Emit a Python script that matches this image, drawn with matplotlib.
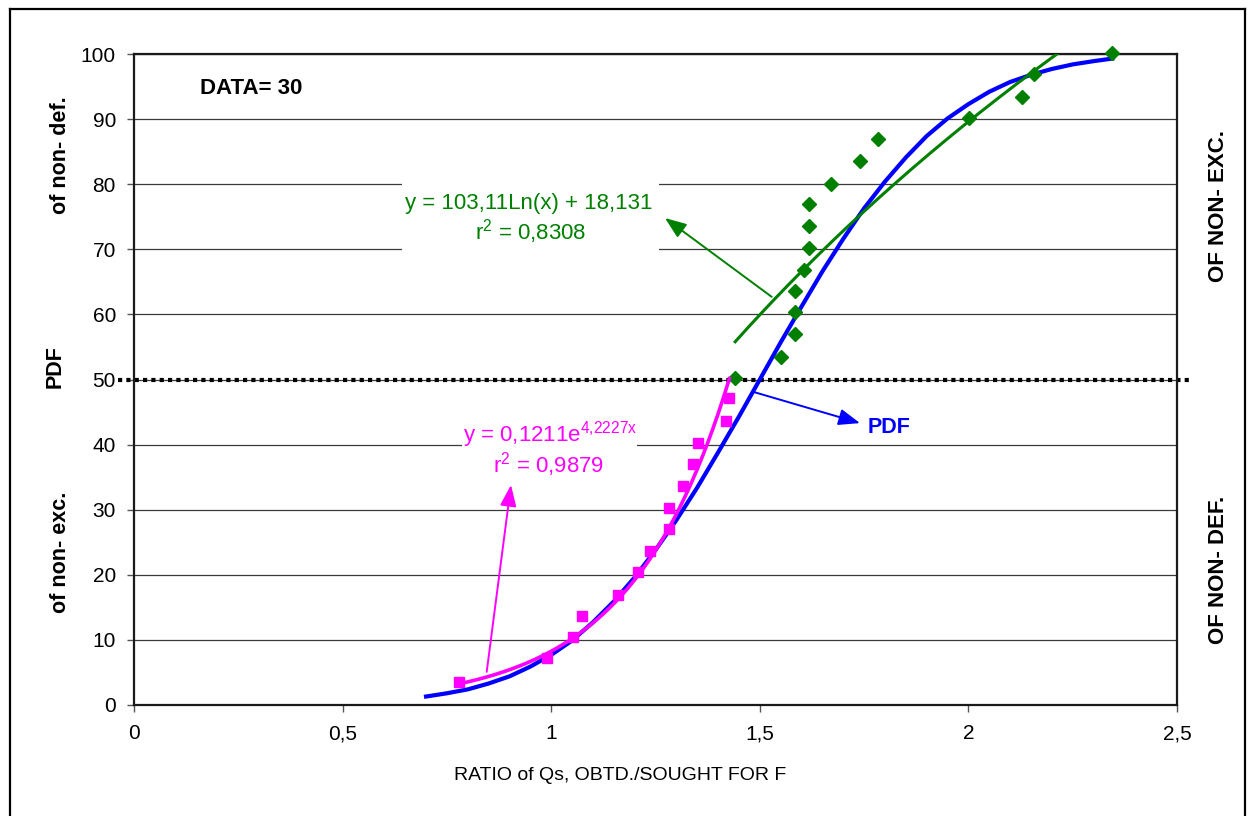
import numpy as np
import matplotlib
matplotlib.use("Agg")
import matplotlib.pyplot as plt
from matplotlib.lines import Line2D
from matplotlib.patches import Rectangle

plt.rcParams['font.family'] = ['Liberation Sans', 'DejaVu Sans']

# Observations below the median (exponential fit)
low_x = [0.779, 0.989, 1.053, 1.075, 1.161, 1.209, 1.237, 1.283, 1.283,
         1.317, 1.341, 1.353, 1.419, 1.427]
low_y = [3.6, 7.2, 10.4, 13.7, 16.9, 20.4, 23.7, 27.0, 30.2,
         33.7, 37.0, 40.2, 43.6, 47.1]

# Observations above the median (logarithmic fit)
high_x = [1.441, 1.551, 1.584, 1.584, 1.584, 1.606, 1.618, 1.618, 1.618,
          1.671, 1.741, 1.784, 2.002, 2.129, 2.158, 2.345]
high_y = [50.2, 53.5, 57.0, 60.3, 63.6, 66.8, 70.2, 73.6, 76.9,
          80.1, 83.6, 86.9, 90.1, 93.4, 96.9, 100.2]

# Cumulative distribution curve
pdf_x = [0.70, 0.75, 0.80, 0.85, 0.90, 0.95, 1.00, 1.05, 1.10, 1.15, 1.20,
         1.25, 1.30, 1.35, 1.40, 1.45, 1.50, 1.55, 1.60, 1.65, 1.70, 1.75,
         1.80, 1.85, 1.90, 1.95, 2.00, 2.05, 2.10, 2.15, 2.20, 2.25, 2.30, 2.345]
pdf_y = [1.3, 1.8, 2.4, 3.3, 4.4, 5.9, 7.7, 9.9, 12.7, 15.9, 19.6,
         23.8, 28.4, 33.4, 38.8, 44.3, 50.0, 55.7, 61.2, 66.6, 71.6, 76.3,
         80.4, 84.1, 87.4, 90.1, 92.3, 94.2, 95.7, 96.8, 97.7, 98.4, 98.9, 99.3]

# Trendline coefficients
exp_a, exp_b = 0.1211, 4.2227
log_a, log_b = 103.11, 18.131
r2_exp, r2_log = "0,9879", "0,8308"

x_ticks = [0, 0.5, 1, 1.5, 2, 2.5]
x_tick_labels = ["0", "0,5", "1", "1,5", "2", "2,5"]
y_ticks = list(range(0, 101, 10))

W, H = 1248, 816
fig = plt.figure(figsize=(W / 100, H / 100), dpi=100)
ax = fig.add_axes([134 / W, 1 - 705 / H, (1177 - 134) / W, (705 - 54) / H])

def fx(px):
    return px / W

def fy(py):
    return 1 - py / H

# outer frame (open at the bottom edge)
for xs, ys in [([10, 10], [9, 820]), ([10, 1245], [9, 9]), ([1245, 1245], [9, 820])]:
    fig.add_artist(Line2D([fx(v) for v in xs], [fy(v) for v in ys],
                          color='black', lw=1.6))

ax.set_xlim(0, 2.5)
ax.set_ylim(0, 100)
ax.set_xticks(x_ticks)
ax.set_xticklabels(x_tick_labels)
ax.set_yticks(y_ticks)
ax.tick_params(axis='both', direction='out', length=5, width=1, color='#555555',
               labelsize=15, labelcolor='black')
ax.tick_params(axis='x', pad=9)
ax.tick_params(axis='y', pad=8)
for s in ax.spines.values():
    s.set_color('#1a1a1a')
    s.set_linewidth(1.6)
ax.grid(axis='y', color='#3a3a3a', lw=0.9, zorder=0.5)
ax.set_axisbelow(True)

# white boxes behind the fit equations
ax.add_patch(Rectangle((0.6424, 69.1), 1.2584 - 0.6424, 80.9 - 69.1,
                       facecolor='white', edgecolor='none', zorder=1))
ax.add_patch(Rectangle((0.7862, 35.0), 1.2057 - 0.7862, 45.0 - 35.0,
                       facecolor='white', edgecolor='none', zorder=1))

# median reference line
ax.plot([-0.038, 2.533], [50, 50], color='black', lw=3.0, ls=(0, (1, 1)),
        clip_on=False, zorder=2, solid_capstyle='butt', dash_capstyle='butt')

ax.plot(pdf_x, pdf_y, color='#0000FF', lw=3.0, zorder=3)

ax.plot(low_x, low_y, ls='none', marker='s', ms=7.4, color='#FF00FF',
        mec='#FF00FF', zorder=4)
ax.plot(high_x, high_y, ls='none', marker='D', ms=7.4, color='#007F00',
        mec='#007F00', zorder=4, clip_on=False)

xe = np.linspace(min(low_x), max(low_x), 200)
ax.plot(xe, exp_a * np.exp(exp_b * xe), color='#FF00FF', lw=2.6, zorder=5)
xl = np.linspace(min(high_x), max(high_x), 200)
ax.plot(xl, log_a * np.log(xl) + log_b, color='#008000', lw=2.2, zorder=5)

# fit equations
ax.text(0.9468, 77.1, "y = 103,11Ln(x) + 18,131", color='#008000', fontsize=16,
        ha='center', va='center', zorder=6)
ax.text(0.9504, 72.7, r"r$\mathregular{^2}$ = " + r2_log, color='#008000',
        fontsize=16, ha='center', va='center', zorder=6)
ax.text(0.997, 41.6, r"y = 0,1211e$\mathregular{^{4{,}2227x}}$", color='#FF00FF',
        fontsize=16, ha='center', va='center', zorder=6)
ax.text(0.9947, 36.9, r"r$\mathregular{^2}$ = " + r2_exp, color='#FF00FF',
        fontsize=16, ha='center', va='center', zorder=6)

# pointer arrows
def arrow(tail, tip, color):
    ax.annotate("", xy=tip, xytext=tail, zorder=6,
                arrowprops=dict(arrowstyle='-|>,head_length=0.65,head_width=0.25',
                                mutation_scale=20, color=color, lw=1.4,
                                shrinkA=0, shrinkB=0))

arrow((1.5285, 62.7), (1.2728, 74.8), '#008000')
arrow((0.8454, 5.1), (0.9036, 33.8), '#FF00FF')
arrow((1.4844, 48.1), (1.7402, 43.3), '#0000FF')
ax.text(1.81, 42.6, "PDF", color='#0000FF', fontsize=15.5, fontweight='bold',
        ha='center', va='center', zorder=6)

fig.text(fx(200), fy(88), "DATA= 30", fontsize=16, fontweight='bold',
         ha='left', va='center')

# axis titles
fig.text(fx(620), fy(775), "RATIO of Qs, OBTD./SOUGHT FOR F", fontsize=14,
         ha='center', va='center')
fig.text(fx(61), fy(155), "of non- def.", fontsize=15.5, fontweight='bold',
         rotation=90, ha='center', va='center')
fig.text(fx(55), fy(367), "PDF", fontsize=15.5, fontweight='bold',
         rotation=90, ha='center', va='center')
fig.text(fx(61), fy(552), "of non- exc.", fontsize=15.5, fontweight='bold',
         rotation=90, ha='center', va='center')
fig.text(fx(1219), fy(206), "OF NON- EXC.", fontsize=16, fontweight='bold',
         rotation=90, ha='center', va='center')
fig.text(fx(1219), fy(570), "OF NON- DEF.", fontsize=16, fontweight='bold',
         rotation=90, ha='center', va='center')

fig.savefig("out.png", dpi=100, facecolor='white')
